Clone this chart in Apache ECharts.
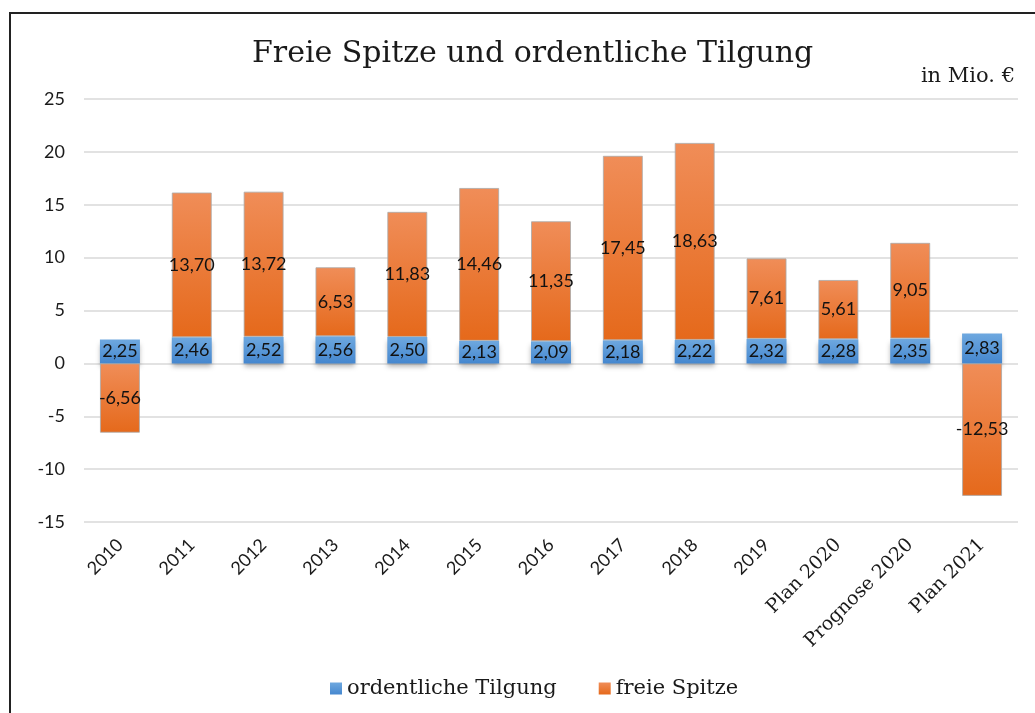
<!DOCTYPE html>
<html>
<head>
<meta charset="utf-8">
<script src="https://cdn.jsdelivr.net/npm/echarts@6/dist/echarts.min.js"></script>
<style>
  html, body { margin: 0; padding: 0; background: #fff; }
  #main { width: 1035px; height: 713px; }
</style>
</head>
<body>
<div id="main"></div>
<script>
// Kategorien und Werte (in Mio. €)
var categories = ['2010', '2011', '2012', '2013', '2014', '2015', '2016', '2017', '2018', '2019', 'Plan 2020', 'Prognose 2020', 'Plan 2021'];
var tilgung = [2.25, 2.46, 2.52, 2.56, 2.50, 2.13, 2.09, 2.18, 2.22, 2.32, 2.28, 2.35, 2.83];
var freieSpitze = [-6.56, 13.70, 13.72, 6.53, 11.83, 14.46, 11.35, 17.45, 18.63, 7.61, 5.61, 9.05, -12.53];
var yTicks = [-15, -10, -5, 0, 5, 10, 15, 20, 25];

var serif = '"DejaVu Serif", serif';
var sans = 'Lato, "Liberation Sans", sans-serif';

function fmt(v) {
    return v.toFixed(2).replace('.', ',');
}

var chart = echarts.init(document.getElementById('main'));

var option = {
    animation: false,
    title: {
        text: 'Freie Spitze und ordentliche Tilgung',
        left: 247,
        top: 34,
        textStyle: { fontFamily: serif, fontWeight: 'normal', fontSize: 30, color: '#1a1a1a' }
    },
    graphic: [
        {
            type: 'rect',
            shape: { x: 10, y: 13, width: 1060, height: 740 },
            style: { fill: 'none', stroke: '#222', lineWidth: 2 },
            silent: true
        },
        {
            type: 'text',
            right: 20,
            top: 66,
            style: { text: 'in Mio. €', fontFamily: serif, fontSize: 21, fill: '#1a1a1a' }
        }
    ],
    legend: {
        bottom: 9,
        left: 325,
        icon: 'rect',
        itemWidth: 12,
        itemHeight: 12,
        itemGap: 42,
        itemStyle: { borderWidth: 0 },
        textStyle: { fontFamily: serif, fontSize: 21, color: '#1a1a1a' },
        data: ['ordentliche Tilgung', 'freie Spitze']
    },
    grid: { left: 84, right: 17, top: 99, bottom: 191 },
    xAxis: {
        type: 'category',
        data: categories,
        axisLine: { show: false },
        axisTick: { show: false },
        axisLabel: {
            rotate: 45,
            margin: 20,
            interval: 0,
            formatter: function (v) {
                return /^\d+$/.test(v) ? '{s|' + v + '}' : '{r|' + v + '}';
            },
            rich: {
                s: { fontFamily: sans, fontSize: 18, color: '#1a1a1a' },
                r: { fontFamily: serif, fontSize: 19, color: '#1a1a1a' }
            }
        }
    },
    yAxis: {
        type: 'value',
        min: yTicks[0],
        max: yTicks[yTicks.length - 1],
        interval: 5,
        axisLine: { show: false },
        axisTick: { show: false },
        axisLabel: { fontFamily: sans, fontSize: 18, color: '#1a1a1a', margin: 19 },
        splitLine: { lineStyle: { color: '#d9d9d9', width: 1.5 } }
    },
    series: [
        {
            name: 'ordentliche Tilgung',
            type: 'bar',
            stack: 'total',
            barWidth: 40,
            data: tilgung,
            itemStyle: {
                color: new echarts.graphic.LinearGradient(0, 0, 0, 1, [
                    { offset: 0, color: '#6ea8df' },
                    { offset: 1, color: '#4587cf' }
                ]),
                shadowBlur: 5,
                shadowOffsetY: 4,
                shadowColor: 'rgba(0,0,0,0.3)'
            },
            label: {
                show: true,
                position: 'inside',
                fontFamily: sans,
                fontSize: 18,
                color: '#111',
                formatter: function (p) { return fmt(p.value); }
            }
        },
        {
            name: 'freie Spitze',
            type: 'bar',
            stack: 'total',
            barWidth: 40,
            data: freieSpitze,
            itemStyle: {
                color: new echarts.graphic.LinearGradient(0, 0, 0, 1, [
                    { offset: 0, color: '#f08d58' },
                    { offset: 1, color: '#e5691b' }
                ]),
                borderColor: 'rgba(170,170,170,0.8)',
                borderWidth: 1
            },
            label: {
                show: true,
                position: 'inside',
                fontFamily: sans,
                fontSize: 18,
                color: '#111',
                formatter: function (p) { return fmt(p.value); }
            }
        }
    ]
};

chart.setOption(option);
</script>
</body>
</html>
